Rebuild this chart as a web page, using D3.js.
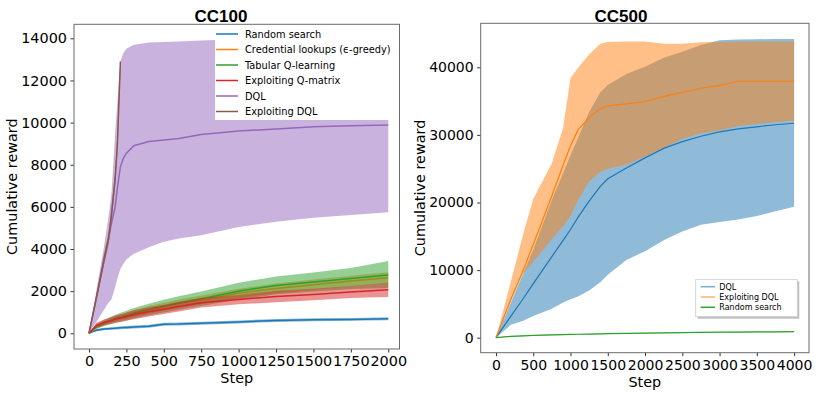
<!DOCTYPE html>
<html>
<head>
<meta charset="utf-8">
<script src="https://cdn.jsdelivr.net/npm/d3@7"></script>
<style>
  body { margin: 0; background: #fff; }
  svg { display: block; }
  .tick text { font-family: "DejaVu Sans", sans-serif; fill: #000; }
</style>
</head>
<body>
<svg id="chart" width="821" height="395"></svg>
<script>
// ---- CC100 data (step grid shared by the series) ----
var cc100Steps = [0, 50, 100, 130, 150, 175, 190, 210, 230, 250, 300, 400, 500, 600, 750, 1000, 1250, 1500, 1750, 2000];

var randMean100 = [0, 150, 200, 220, 230, 240, 250, 260, 270, 280, 300, 330, 430, 440, 480, 540, 610, 640, 660, 690];
var randLow100  = [0, 90, 140, 160, 170, 175, 185, 195, 200, 210, 230, 260, 360, 370, 410, 470, 540, 570, 590, 620];
var randHigh100 = [0, 210, 260, 280, 290, 300, 315, 325, 335, 345, 370, 400, 500, 510, 550, 610, 680, 710, 730, 760];

var credMean100 = [0, 300, 470, 560, 610, 680, 710, 750, 790, 830, 930, 1110, 1260, 1400, 1590, 1900, 2130, 2310, 2480, 2640];
var credLow100  = [0, 220, 370, 450, 490, 550, 580, 610, 650, 680, 770, 930, 1070, 1200, 1380, 1680, 1900, 2070, 2230, 2380];
var credHigh100 = [0, 380, 570, 670, 730, 810, 840, 890, 930, 980, 1090, 1290, 1450, 1600, 1800, 2120, 2360, 2550, 2730, 2900];

var tabMean100 = [0, 320, 480, 570, 620, 690, 720, 760, 800, 840, 950, 1130, 1290, 1440, 1640, 2000, 2270, 2430, 2600, 2770];
var tabLow100  = [0, 200, 330, 400, 440, 500, 520, 550, 580, 610, 700, 860, 990, 1120, 1300, 1600, 1850, 1980, 2100, 2150];
var tabHigh100 = [0, 440, 630, 740, 800, 880, 920, 970, 1020, 1070, 1200, 1400, 1590, 1760, 1980, 2400, 2700, 2880, 3100, 3430];

var qmatMean100 = [0, 380, 520, 570, 610, 660, 690, 720, 750, 790, 880, 1020, 1140, 1270, 1450, 1600, 1750, 1840, 1960, 2070];
var qmatLow100  = [0, 260, 380, 420, 450, 490, 510, 540, 560, 590, 670, 800, 920, 1040, 1230, 1380, 1470, 1570, 1680, 1720];
var qmatHigh100 = [0, 500, 660, 720, 770, 830, 870, 900, 940, 990, 1090, 1240, 1360, 1500, 1670, 1820, 2020, 2120, 2250, 2400];

var dqlMean100 = [0, 1700, 3400, 4450, 5200, 6000, 6900, 7900, 8300, 8550, 8900, 9100, 9170, 9250, 9440, 9600, 9700, 9800, 9850, 9880];
var dqlLow100  = [0, 550, 1100, 1450, 1600, 2200, 2600, 3050, 3300, 3500, 3780, 4080, 4350, 4500, 4650, 5050, 5300, 5480, 5620, 5750];
var dqlHigh100 = [0, 2050, 4100, 5500, 6600, 9500, 11000, 12900, 13300, 13500, 13700, 13800, 13820, 13850, 13900, 13950, 13960, 13980, 13990, 14000];

// Exploiting DQL only runs to step 210 (first 8 grid points)
var exDqlMean100 = [0, 1700, 3500, 4450, 5600, 7350, 9000, 12900];
var exDqlLow100  = [0, 1550, 3250, 4150, 5250, 6950, 8500, 12300];
var exDqlHigh100 = [0, 1850, 3750, 4750, 5950, 7750, 9500, 13000];

// ---- CC500 data ----
var cc500Steps = [0, 200, 367, 500, 750, 900, 1000, 1100, 1250, 1400, 1500, 1750, 2000, 2250, 2500, 2750, 3000, 3250, 3500, 3750, 4000];

var dqlMean500 = [0, 3200, 5800, 8000, 12000, 14400, 16000, 17800, 20200, 22400, 23500, 25100, 26600, 28000, 29000, 29800, 30450, 30900, 31200, 31500, 31720];
var dqlLow500  = [0, 1900, 2500, 3200, 4300, 5200, 5700, 6100, 7000, 8200, 9300, 11500, 12800, 14400, 15700, 16700, 17100, 17500, 18000, 18700, 19380];
var dqlHigh500 = [0, 5200, 9520, 13000, 20400, 24300, 27000, 29500, 33400, 36300, 37400, 39000, 40100, 41400, 42300, 43300, 44000, 44100, 44150, 44200, 44200];

var exDqlMean500 = [0, 5700, 10000, 13800, 21000, 25500, 28400, 30700, 32600, 33900, 34300, 34600, 34900, 35700, 36300, 36900, 37300, 37940, 37940, 37940, 37940];
var exDqlLow500  = [0, 5300, 9520, 11200, 14600, 16500, 18000, 20300, 23100, 24500, 25000, 25600, 26800, 28100, 29400, 30200, 30700, 31300, 31600, 31900, 32100];
var exDqlHigh500 = [0, 8300, 15400, 20500, 25800, 31000, 38400, 39900, 41900, 43500, 43750, 43800, 43800, 43500, 43500, 43700, 43750, 43800, 43800, 43800, 43800];

var randMean500 = [0, 200, 280, 330, 420, 460, 490, 510, 540, 570, 590, 640, 680, 720, 750, 780, 810, 830, 850, 870, 890];
var randLow500  = [0, 150, 230, 280, 370, 410, 440, 460, 490, 520, 540, 590, 630, 670, 700, 730, 760, 780, 800, 820, 840];
var randHigh500 = [0, 250, 330, 380, 470, 510, 540, 560, 590, 620, 640, 690, 730, 770, 800, 830, 860, 880, 900, 920, 940];

var cc100Names = ["Random search", "Credential lookups (\u03f5-greedy)", "Tabular Q-learning", "Exploiting Q-matrix", "DQL", "Exploiting DQL"];
var cc500Names = ["DQL", "Exploiting DQL", "Random search"];

var x100Ticks = d3.range(0, 2001, 250);
var y100Ticks = d3.range(0, 14001, 2000);
var x500Ticks = d3.range(0, 4001, 500);
var y500Ticks = d3.range(0, 40001, 10000);

var tab = {blue:"#1f77b4", orange:"#ff7f0e", green:"#2ca02c", red:"#d62728", purple:"#9467bd", brown:"#8c564b"};

function pack(steps, mean, low, high) {
  return mean.map(function(m, i){ return {s: steps[i], m: m, lo: low[i], hi: high[i]}; });
}

var cc100Series = [
  {name: cc100Names[0], color: tab.blue,   pts: pack(cc100Steps, randMean100, randLow100, randHigh100)},
  {name: cc100Names[1], color: tab.orange, pts: pack(cc100Steps, credMean100, credLow100, credHigh100)},
  {name: cc100Names[2], color: tab.green,  pts: pack(cc100Steps, tabMean100, tabLow100, tabHigh100)},
  {name: cc100Names[3], color: tab.red,    pts: pack(cc100Steps, qmatMean100, qmatLow100, qmatHigh100)},
  {name: cc100Names[4], color: tab.purple, pts: pack(cc100Steps, dqlMean100, dqlLow100, dqlHigh100)},
  {name: cc100Names[5], color: tab.brown,  pts: pack(cc100Steps, exDqlMean100, exDqlLow100, exDqlHigh100)}
];
var cc500Series = [
  {name: cc500Names[0], color: tab.blue,   pts: pack(cc500Steps, dqlMean500, dqlLow500, dqlHigh500)},
  {name: cc500Names[1], color: tab.orange, pts: pack(cc500Steps, exDqlMean500, exDqlLow500, exDqlHigh500)},
  {name: cc500Names[2], color: tab.green,  pts: pack(cc500Steps, randMean500, randLow500, randHigh500)}
];

var svg = d3.select("#chart");

function drawPanel(o) {
  var x = d3.scaleLinear().domain(o.xDomain).range([o.left, o.right]);
  var y = d3.scaleLinear().domain(o.yDomain).range([o.bottom, o.top]);
  var g = svg.append("g");

  g.append("clipPath").attr("id", o.id + "-clip")
    .append("rect")
    .attr("x", o.left).attr("y", o.top)
    .attr("width", o.right - o.left).attr("height", o.bottom - o.top);

  var plot = g.append("g").attr("clip-path", "url(#" + o.id + "-clip)");

  var area = d3.area()
    .x(function(d){ return x(d.s); })
    .y0(function(d){ return y(d.lo); })
    .y1(function(d){ return y(d.hi); });
  var line = d3.line()
    .x(function(d){ return x(d.s); })
    .y(function(d){ return y(d.m); });

  o.series.forEach(function(s){
    plot.append("path").attr("d", area(s.pts))
      .attr("fill", s.color).attr("fill-opacity", 0.5);
    plot.append("path").attr("d", line(s.pts))
      .attr("fill", "none").attr("stroke", s.color)
      .attr("stroke-width", o.lineWidth);
  });

  // axes
  var xAxis = d3.axisBottom(x).tickValues(o.xTicks).tickSize(3.5).tickPadding(3.5).tickSizeOuter(0).tickFormat(d3.format("d"));
  var yAxis = d3.axisLeft(y).tickValues(o.yTicks).tickSize(3.5).tickPadding(3.5).tickSizeOuter(0).tickFormat(d3.format("d"));
  var gx = g.append("g").attr("transform", "translate(0," + o.bottom + ")").call(xAxis);
  var gy = g.append("g").attr("transform", "translate(" + o.left + ",0)").call(yAxis);
  [gx, gy].forEach(function(a){
    a.select(".domain").remove();
    a.selectAll(".tick line").attr("stroke", "#333");
    a.selectAll(".tick text").style("font-size", o.tickFont + "px");
  });

  g.append("rect")
    .attr("x", o.left).attr("y", o.top)
    .attr("width", o.right - o.left).attr("height", o.bottom - o.top)
    .attr("fill", "none").attr("stroke", "#6b6b6b").attr("stroke-width", 1);

  g.append("text").attr("x", o.titleX).attr("y", 21.5)
    .attr("text-anchor", "middle")
    .style("font-family", "'Liberation Sans', Arial, sans-serif")
    .style("font-weight", "bold").style("font-size", "17px")
    .text(o.title);

  g.append("text")
    .attr("transform", "translate(" + o.ylabelX + "," + ((o.top + o.bottom) / 2) + ") rotate(-90)")
    .attr("text-anchor", "middle")
    .style("font-family", "'DejaVu Sans', sans-serif").style("font-size", "14.4px")
    .text("Cumulative reward");

  g.append("text").attr("x", (o.left + o.right) / 2).attr("y", o.xlabelY)
    .attr("text-anchor", "middle")
    .style("font-family", "'DejaVu Sans', sans-serif").style("font-size", "14.4px")
    .text("Step");

  return g;
}

var g1 = drawPanel({
  id: "cc100", title: "CC100", titleX: 221,
  left: 74, right: 399.5, top: 24.3, bottom: 349,
  xDomain: [-100, 2075], yDomain: [-745, 14665],
  xTicks: x100Ticks, yTicks: y100Ticks,
  series: cc100Series, lineWidth: 1.5, tickFont: 14.4,
  ylabelX: 17, xlabelY: 383
});

var g2 = drawPanel({
  id: "cc500", title: "CC500", titleX: 621,
  left: 480.7, right: 809, top: 23.3, bottom: 352.7,
  xDomain: [-205, 4200], yDomain: [-2220, 46510],
  xTicks: x500Ticks, yTicks: y500Ticks,
  series: cc500Series, lineWidth: 1.2, tickFont: 14,
  ylabelX: 425, xlabelY: 387
});

// legend CC100 (white box, no frame)
var leg1 = g1.append("g");
leg1.append("rect").attr("x", 215).attr("y", 25).attr("width", 184).attr("height", 95).attr("fill", "#fff");
cc100Series.forEach(function(s, i){
  var yy = 34 + i * 15.5;
  leg1.append("line").attr("x1", 216).attr("x2", 238).attr("y1", yy).attr("y2", yy)
    .attr("stroke", s.color).attr("stroke-width", 1.5);
  leg1.append("text").attr("x", 245).attr("y", yy + 3.5)
    .style("font-family", "'DejaVu Sans', sans-serif").style("font-size", "9.8px")
    .text(s.name);
});

// legend CC500 (framed with shadow)
var leg2 = g2.append("g");
leg2.append("rect").attr("x", 697.7).attr("y", 281.3).attr("width", 101.6).attr("height", 37.4)
  .attr("fill", "#000").attr("fill-opacity", 0.25);
leg2.append("rect").attr("x", 695.7).attr("y", 279.3).attr("width", 101.6).attr("height", 37.4)
  .attr("fill", "#fff").attr("stroke", "#ccc").attr("stroke-width", 0.8);
cc500Series.forEach(function(s, i){
  var yy = 286.7 + i * 10.3;
  leg2.append("line").attr("x1", 700.7).attr("x2", 715).attr("y1", yy).attr("y2", yy)
    .attr("stroke", s.color).attr("stroke-opacity", i === 2 ? 1 : 0.6).attr("stroke-width", 1.5);
  leg2.append("text").attr("x", 719.3).attr("y", yy + 2.8)
    .style("font-family", "'DejaVu Sans', sans-serif").style("font-size", "8px")
    .text(s.name);
});
</script>
</body>
</html>
